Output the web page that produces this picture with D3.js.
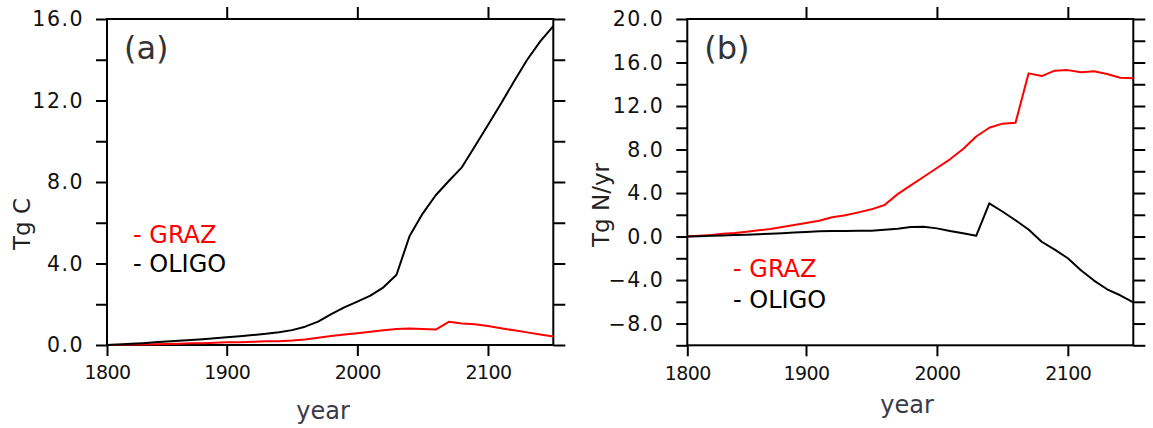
<!DOCTYPE html>
<html>
<head>
<meta charset="utf-8">
<script src="https://cdn.jsdelivr.net/npm/d3@7"></script>
<style>
  body { margin: 0; background: #fff; }
  svg { display: block; }
  text { font-family: "DejaVu Sans", Verdana, sans-serif; }
</style>
</head>
<body>
<svg id="chart" width="1153" height="428"></svg>
<script>
  // decadal values, 1800-2150
  var years = [1800, 1810, 1820, 1830, 1840, 1850, 1860, 1870, 1880, 1890,
               1900, 1910, 1920, 1930, 1940, 1950, 1960, 1970, 1980, 1990,
               2000, 2010, 2020, 2030, 2040, 2050, 2060, 2070, 2080, 2090,
               2100, 2110, 2120, 2130, 2140, 2150];

  // (a) Tg C
  var carbonGraz = [0, 0.01, 0.02, 0.03, 0.04, 0.05, 0.06, 0.08, 0.09, 0.11,
                    0.13, 0.14, 0.16, 0.18, 0.19, 0.22, 0.27, 0.36, 0.44, 0.51,
                    0.58, 0.65, 0.72, 0.78, 0.81, 0.79, 0.76, 1.14, 1.06, 1.02,
                    0.93, 0.82, 0.72, 0.62, 0.52, 0.42];
  var carbonOligo = [0, 0.03, 0.06, 0.09, 0.13, 0.17, 0.21, 0.24, 0.28, 0.33,
                     0.38, 0.43, 0.49, 0.55, 0.63, 0.73, 0.90, 1.15, 1.52, 1.85,
                     2.13, 2.42, 2.83, 3.45, 5.35, 6.45, 7.35, 8.05, 8.72, 9.75,
                     10.80, 11.85, 12.95, 14.0, 14.9, 15.65];

  // (b) Tg N/yr
  var nitroGraz = [0, 0.08, 0.15, 0.25, 0.33, 0.45, 0.57, 0.70, 0.87, 1.07,
                   1.25, 1.45, 1.77, 1.95, 2.22, 2.5, 2.9, 3.9, 4.7, 5.5,
                   6.3, 7.1, 8.05, 9.2, 10.0, 10.38, 10.45, 15.0, 14.75, 15.25,
                   15.3, 15.1, 15.2, 14.95, 14.6, 14.55];
  var nitroOligo = [0, 0.03, 0.07, 0.10, 0.13, 0.17, 0.21, 0.25, 0.30, 0.36,
                    0.42, 0.48, 0.50, 0.52, 0.53, 0.53, 0.62, 0.72, 0.88, 0.90,
                    0.75, 0.50, 0.30, 0.07, 3.05, 2.30, 1.50, 0.65, -0.48, -1.20,
                    -2.0, -3.1, -4.05, -4.85, -5.4, -6.05];

  var seriesNames = ['GRAZ', 'OLIGO'];
  var seriesColors = ['#ff0000', '#000000'];
  var xTicks = [1800, 1900, 2000, 2100];
  var xTopTicks = [1900, 2000, 2100];

  var svg = d3.select('#chart');
  var fmt = d3.format('.1f');

  function drawPanel(cfg) {
    var g = svg.append('g');

    // the x axis is drawn with a break in spacing before 1900, as in the original
    var x = d3.scaleLinear()
      .domain([1800, 1900, 2150])
      .range([cfg.left, cfg.left + cfg.w1900, cfg.right]);
    var y = d3.scaleLinear()
      .domain(cfg.yDomain)
      .range([cfg.bottom, cfg.top]);

    var yMinor = d3.range(cfg.yDomain[0], cfg.yDomain[1] + 0.01, 2);

    var left = g.append('g')
      .attr('transform', 'translate(' + cfg.left + ',0)')
      .call(d3.axisLeft(y).tickValues(yMinor).tickSize(11).tickSizeOuter(0).tickPadding(12)
        .tickFormat(function(d) { return d % 4 === 0 ? fmt(d) : ''; }));
    var right = g.append('g')
      .attr('transform', 'translate(' + cfg.right + ',0)')
      .call(d3.axisRight(y).tickValues(yMinor).tickSize(12).tickSizeOuter(0).tickFormat(''));
    var bottom = g.append('g')
      .attr('transform', 'translate(0,' + cfg.bottom + ')')
      .call(d3.axisBottom(x).tickValues(xTicks).tickSize(11).tickSizeOuter(0).tickPadding(10)
        .tickFormat(d3.format('d')));
    var top = g.append('g')
      .attr('transform', 'translate(0,' + cfg.top + ')')
      .call(d3.axisTop(x).tickValues(xTopTicks).tickSize(12).tickSizeOuter(0).tickFormat(''));

    [left, right, bottom, top].forEach(function(a) {
      a.selectAll('.domain').remove();
      a.selectAll('line').attr('stroke', '#000').attr('stroke-width', 2);
    });
    left.selectAll('text')
      .attr('fill', '#111')
      .style('font-size', '20.5px')
      .style('letter-spacing', '1.5px');
    bottom.selectAll('text')
      .attr('fill', '#111')
      .style('font-size', '19px')
      .style('letter-spacing', '-0.6px');

    g.append('rect')
      .attr('x', cfg.left)
      .attr('y', cfg.top)
      .attr('width', cfg.right - cfg.left)
      .attr('height', cfg.bottom - cfg.top)
      .attr('fill', 'none')
      .attr('stroke', '#000')
      .attr('stroke-width', 2);

    var line = d3.line()
      .x(function(d, i) { return x(years[i]); })
      .y(function(d) { return y(d); });

    cfg.series.forEach(function(s, i) {
      g.append('path')
        .datum(s)
        .attr('d', line)
        .attr('fill', 'none')
        .attr('stroke', seriesColors[i])
        .attr('stroke-width', 2)
        .attr('stroke-linejoin', 'round');
    });

    // legend
    seriesNames.forEach(function(name, i) {
      g.append('text')
        .attr('x', cfg.legendX)
        .attr('y', cfg.legendY + i * cfg.legendStep)
        .attr('fill', seriesColors[i])
        .style('font-size', '24px')
        .text('-\u00a0' + name);
    });

    g.append('text')
      .attr('x', cfg.left + 17)
      .attr('y', cfg.top + 40)
      .attr('fill', '#333')
      .style('font-size', '32px')
      .text(cfg.tag);

    g.append('text')
      .attr('transform', 'translate(' + cfg.yTitleX + ',' + cfg.yTitleY + ') rotate(-90)')
      .attr('text-anchor', 'middle')
      .attr('fill', '#222')
      .style('font-size', '23px')
      .text(cfg.yTitle);

    g.append('text')
      .attr('x', cfg.yearX)
      .attr('y', cfg.yearY)
      .attr('text-anchor', 'middle')
      .attr('fill', '#3a3a48')
      .style('font-size', '24px')
      .text('year');
  }

  drawPanel({
    left: 107, right: 553.3, top: 19, bottom: 345, w1900: 119.7,
    yDomain: [0, 16],
    series: [carbonGraz, carbonOligo],
    legendX: 133, legendY: 243, legendStep: 29,
    tag: '(a)',
    yTitle: 'Tg C', yTitleX: 30, yTitleY: 224,
    yearX: 323, yearY: 419
  });

  drawPanel({
    left: 687.3, right: 1133.3, top: 19, bottom: 345.3, w1900: 118.7,
    yDomain: [-10, 20],
    series: [nitroGraz, nitroOligo],
    legendX: 733, legendY: 277, legendStep: 31,
    tag: '(b)',
    yTitle: 'Tg N/yr', yTitleX: 609, yTitleY: 205,
    yearX: 907, yearY: 413
  });
</script>
</body>
</html>
